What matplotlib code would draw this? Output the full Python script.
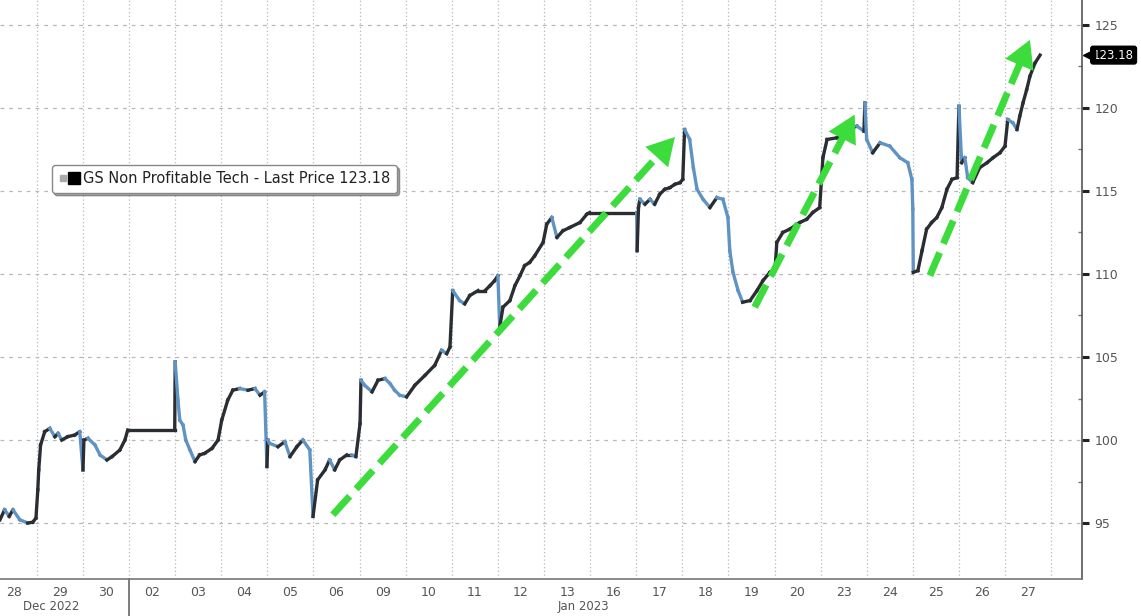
import matplotlib
matplotlib.use("Agg")
import matplotlib.pyplot as plt
import matplotlib.transforms as mtransforms
import numpy as np
from matplotlib.collections import LineCollection
from matplotlib.lines import Line2D
from matplotlib.legend_handler import HandlerTuple

# trading days shown on the x axis (one slot per session)
day_labels = ["28", "29", "30", "02", "03", "04", "05", "06", "09", "10", "11", "12",
              "13", "16", "17", "18", "19", "20", "23", "24", "25", "26", "27"]
month_labels = ["Dec 2022", "Jan 2023"]
month_pos = [0.82, 12.35]

# intraday path, x = session slot (fraction of a day), y = price
t = [-0.30, -0.20, -0.10, -0.02, 0.13, 0.30, 0.41, 0.48,
     0.52, 0.54, 0.58, 0.67, 0.78, 0.89, 0.96, 1.04, 1.17, 1.32, 1.43,
     1.50, 1.52, 1.61, 1.76, 1.87, 2.02, 2.13, 2.30, 2.41, 2.47,
     3.49, 3.50, 3.56, 3.60, 3.67, 3.73, 3.82, 3.93, 4.03, 4.14, 4.30, 4.43, 4.51,
     4.64, 4.75, 4.90, 5.08, 5.23, 5.34, 5.44, 5.49, 5.51, 5.55, 5.73, 5.88, 5.99,
     6.14, 6.27, 6.42, 6.49, 6.59, 6.75, 6.85, 6.96, 7.07, 7.22, 7.33, 7.42,
     7.51, 7.53, 7.61, 7.77, 7.90, 8.05, 8.16, 8.26, 8.37, 8.52, 8.70, 8.92, 9.13,
     9.28, 9.39, 9.46,
     9.52, 9.67, 9.78, 9.89, 10.07, 10.22, 10.33, 10.43, 10.50, 10.54, 10.61, 10.76,
     10.87, 10.98, 11.08, 11.19, 11.30, 11.48, 11.56, 11.67, 11.78, 11.91, 12.06,
     12.28, 12.43, 12.49,
     13.51, 13.52, 13.55, 13.58, 13.69, 13.80, 13.90, 14.01, 14.12, 14.23, 14.34,
     14.45, 14.51,
     14.55, 14.66, 14.74, 14.82, 14.95, 15.10, 15.25, 15.38, 15.49, 15.53, 15.60,
     15.71, 15.81, 15.97, 16.12, 16.25, 16.40, 16.51, 16.55, 16.68, 16.83, 17.05,
     17.20, 17.33, 17.48, 17.55, 17.64, 17.85, 18.07, 18.29, 18.44, 18.46, 18.50,
     18.63, 18.79, 19.00, 19.22, 19.39, 19.48,
     19.50, 19.51, 19.61, 19.70, 19.80, 19.91, 20.02, 20.13, 20.24, 20.35, 20.46,
     20.50, 20.56, 20.63, 20.69, 20.80, 20.95, 21.11, 21.24, 21.39, 21.50, 21.56,
     21.67, 21.76, 21.82, 21.89, 21.97, 22.04, 22.15, 22.26]
price = [95.2, 95.8, 95.4, 95.8, 95.2, 95.0, 95.05, 95.3,
         97.0, 98.2, 99.7, 100.5, 100.7, 100.2, 100.4, 100.0, 100.2, 100.3, 100.5,
         98.2, 100.0, 100.1, 99.7, 99.1, 98.8, 99.0, 99.4, 100.0, 100.6,
         100.6, 104.7, 102.4, 101.2, 100.9, 100.0, 99.4, 98.7, 99.1, 99.2, 99.5, 100.0, 101.2,
         102.4, 103.0, 103.1, 103.0, 103.1, 102.7, 102.9, 98.4, 100.0, 99.8, 99.6, 99.9, 99.0,
         99.6, 100.0, 99.4, 95.4, 97.6, 98.2, 98.8, 98.2, 98.8, 99.1, 99.1, 99.0,
         101.0, 103.6, 103.3, 102.9, 103.6, 103.7, 103.4, 103.0, 102.7, 102.6, 103.3, 103.9, 104.5,
         105.4, 105.2, 105.6,
         109.0, 108.4, 108.2, 108.7, 109.0, 109.0, 109.3, 109.6, 109.9, 106.8, 108.0, 108.4,
         109.3, 109.9, 110.5, 110.7, 111.1, 111.9, 113.0, 113.4, 112.2, 112.6, 112.8,
         113.1, 113.6, 113.7,
         113.7, 111.4, 114.0, 114.5, 114.2, 114.5, 114.2, 114.8, 115.1, 115.2, 115.4,
         115.5, 115.7,
         118.7, 118.1, 116.4, 115.1, 114.5, 114.0, 114.6, 114.5, 113.4, 111.4, 110.1,
         109.0, 108.3, 108.4, 109.0, 109.6, 110.1, 110.2, 111.9, 112.5, 112.7, 113.1,
         113.3, 113.7, 114.0, 117.0, 118.1, 118.2, 118.7, 118.9, 118.6, 120.3, 118.1,
         117.3, 117.9, 117.7, 117.0, 116.7, 115.7,
         113.9, 110.1, 110.2, 111.4, 112.7, 113.1, 113.4, 114.0, 115.1, 115.7, 115.8,
         120.1, 116.7, 117.0, 115.8, 115.5, 116.4, 116.7, 117.0, 117.3, 117.7, 119.3,
         119.1, 118.7, 119.5, 120.3, 121.1, 121.9, 122.7, 123.18]
last_price = 123.18

# green trend arrows (start slot, start price, end slot, end price)
arrow_start_t = [6.92, 16.07, 19.87]
arrow_start_p = [95.5, 108.0, 109.9]
arrow_end_t = [14.34, 18.24, 22.04]
arrow_end_p = [118.25, 119.6, 124.1]

y_ticks = [95, 100, 105, 110, 115, 120, 125]

fig = plt.figure(figsize=(11.41, 6.16), dpi=100)
ax = fig.add_axes([0, 37 / 616, 1082 / 1141, 579 / 616])

ax.set_xlim(-0.30, 23.17)
ax.set_ylim(91.63, 126.5)

# grid
for i in range(len(day_labels)):
    ax.axvline(i + 0.5, color="#b8b8b8", lw=0.9, ls=(0, (1, 2)), zorder=0)
for v in y_ticks:
    ax.axhline(v, color="#b8b8b8", lw=0.9, ls=(0, (3, 4)), zorder=0)

# price line: falling pieces blue, rising pieces dark
tt = np.array(t)
pp = np.array(price)
segs = np.stack([np.column_stack([tt[:-1], pp[:-1]]),
                 np.column_stack([tt[1:], pp[1:]])], axis=1)
cols = ["#5f93c4" if d < 0 else "#2a2e33" for d in np.diff(pp)]
lc = LineCollection(segs, colors=cols, linewidths=2.4, zorder=3, capstyle="projecting")
ax.add_collection(lc)

# arrows: dashed shaft ending where the head starts
green = "#3bdc3b"
head_px = 20
for x0, y0, x1, y1 in zip(arrow_start_t, arrow_start_p, arrow_end_t, arrow_end_p):
    p0 = ax.transData.transform((x0, y0))
    p1 = ax.transData.transform((x1, y1))
    u = (p1 - p0) / np.hypot(*(p1 - p0))
    xm, ym = ax.transData.inverted().transform(p1 - u * head_px)
    xs, ys = ax.transData.inverted().transform(p1 - u * (head_px - 3))
    ax.plot([x0, xs], [y0, ys], color=green, lw=5, ls=(0, (3.6, 1.4)),
            solid_capstyle="butt", dash_capstyle="butt", zorder=4)
    ax.annotate("", xy=(x1, y1), xytext=(xm, ym),
                arrowprops=dict(arrowstyle="-|>,head_length=1.5,head_width=0.85",
                                color=green, lw=0, shrinkA=0, shrinkB=0,
                                mutation_scale=13), zorder=4)

# axes styling
for s in ["top", "left"]:
    ax.spines[s].set_visible(False)
ax.spines["right"].set_color("#555555")
ax.spines["right"].set_linewidth(1.2)
ax.spines["bottom"].set_color("#777777")
ax.spines["bottom"].set_linewidth(1.2)

ax.yaxis.tick_right()
ax.set_yticks(y_ticks)
ax.set_yticklabels([str(v) for v in y_ticks])
ax.set_yticks([97.5, 102.5, 107.5, 112.5, 117.5, 122.5], minor=True)
ax.tick_params(axis="y", which="major", length=5, width=2.2, color="#222222",
               labelsize=9, labelcolor="#555555", pad=4)
ax.tick_params(axis="y", which="minor", direction="in", length=3, width=1, color="#777777")

ax.set_xticks(range(len(day_labels)))
ax.set_xticklabels(day_labels)
ax.tick_params(axis="x", length=0, labelsize=9, labelcolor="#555555", pad=5)

for lab, xp in zip(month_labels, month_pos):
    ax.text(xp, -0.048, lab, transform=ax.get_xaxis_transform(), ha="center",
            va="center", fontsize=8.5, color="#555555")
ax.plot([2.5, 2.5], [0, -0.07], transform=ax.get_xaxis_transform(),
        color="#666666", lw=1.2, clip_on=False)

# last price tag: pointed left end + black box
tag_tr = mtransforms.offset_copy(ax.get_yaxis_transform(), fig=fig, x=7, y=0, units="dots")
ax.plot([1.0], [last_price], marker="<", color="black", markersize=9,
        transform=tag_tr, clip_on=False, zorder=5)
ax.annotate(f"{last_price:.2f}", xy=(1.0, last_price), xycoords=("axes fraction", "data"),
            xytext=(8, 0), textcoords="offset points", ha="left", va="center",
            fontsize=8.5, color="white",
            bbox=dict(boxstyle="round,pad=0.2", fc="black", ec="black"),
            annotation_clip=False)

# legend
h_small = Line2D([], [], marker="s", ls="", color="#aaaaaa", markersize=5)
h_big = Line2D([], [], marker="s", ls="", color="black", markersize=9)
leg = ax.legend([(h_small, h_big)], ["GS Non Profitable Tech - Last Price 123.18"],
                handler_map={tuple: HandlerTuple(ndivide=None, pad=0.1)},
                loc="upper left", bbox_to_anchor=(0.041, 0.728), fontsize=10.5,
                frameon=True, fancybox=True, edgecolor="#888888", shadow=True,
                handlelength=1.4, handletextpad=0.3, borderpad=0.45)
for txt in leg.get_texts():
    txt.set_color("#222222")

fig.savefig("out.png", dpi=100)
